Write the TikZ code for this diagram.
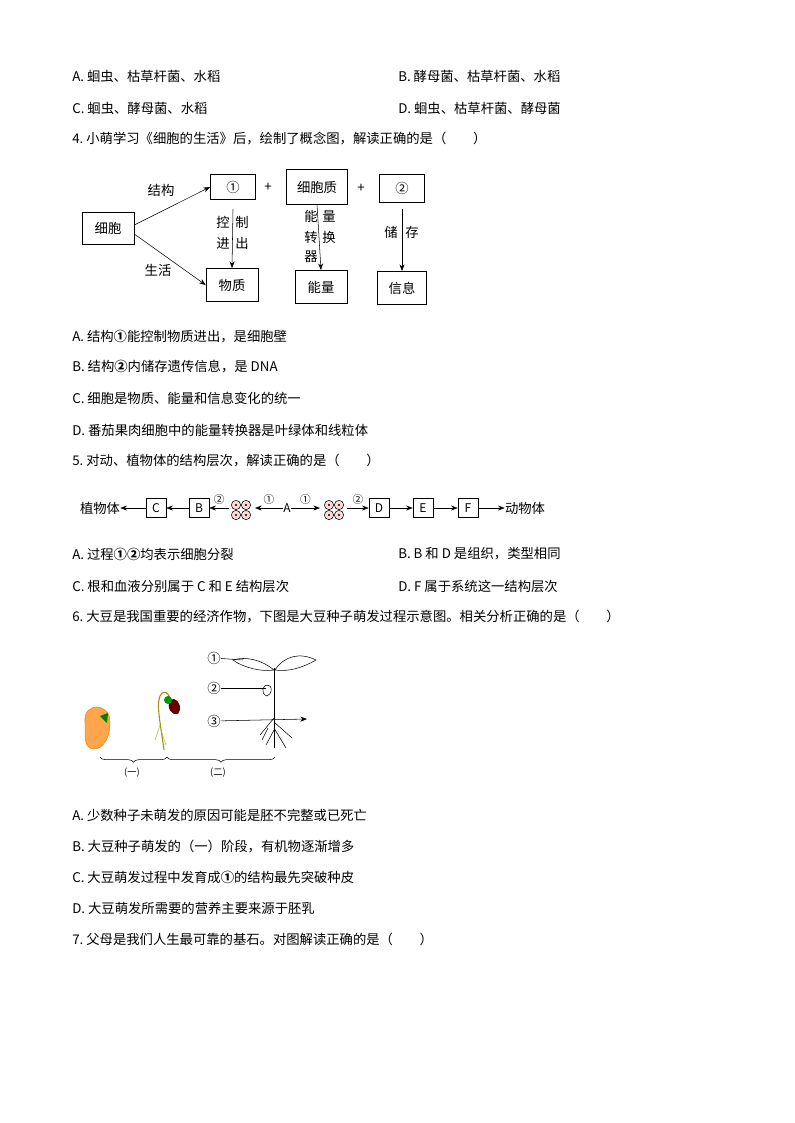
\documentclass[tikz,border=0pt]{standalone}
\usepackage{fontspec}
\setmainfont{Noto Sans CJK SC}
\usetikzlibrary{positioning,decorations.pathreplacing,arrows.meta}
\tikzset{
    line/.style={anchor=west,inner sep=0pt,font=\fontsize{10pt}{12pt}\selectfont},
    cbox/.style={rectangle,draw=black,inner sep=0pt,font=\fontsize{10pt}{12pt}\selectfont},
    lbl/.style={inner sep=0pt,font=\fontsize{10pt}{12pt}\selectfont},
    sbox/.style={rectangle,draw=black,minimum width=15pt,minimum height=14pt,inner sep=0pt,font=\fontsize{9pt}{10pt}\selectfont},
    cell/.style={circle,draw=black,fill=pink!60,minimum size=7pt,inner sep=0pt},
    arr/.style={-{Stealth[length=5pt]},thin},
}
\newcommand{\cellgroup}[2]{%
  \foreach \dx/\dy in {-5/-5,5/-5,-5/5,5/5}{
    \node[cell] at (#1+\dx,#2+\dy) {};
    \fill (#1+\dx,#2+\dy) circle (0.8pt);}
  \coordinate (#1g) at (#1,#2);}
\begin{document}
\begin{tikzpicture}[x=0.75pt,y=-0.75pt]
  \useasboundingbox (0,0) rectangle (794,1123);
  % question 3 options
  \node[line] (q3a) at (72,76) {A.\ 蛔虫、枯草杆菌、水稻};
  \node[line] (q3b) at (398,76) {B.\ 酵母菌、枯草杆菌、水稻};
  \node[line] (q3c) at (72,108) {C.\ 蛔虫、酵母菌、水稻};
  \node[line] (q3d) at (398,108) {D.\ 蛔虫、枯草杆菌、酵母菌};
  % question 4
  \node[line] (q4) at (72,139) {4.\ 小萌学习《细胞的生活》后，绘制了概念图，解读正确的是（\quad\quad）};
  \node[cbox,minimum width=39pt,minimum height=24pt] (cell) at (108,228) {细胞};
  \node[cbox,minimum width=34pt,minimum height=19pt] (one) at (233,187) {①};
  \node[cbox,minimum width=46pt,minimum height=26pt] (cyto) at (317,187) {细胞质};
  \node[cbox,minimum width=34pt,minimum height=21pt] (two) at (402,188) {②};
  \node[cbox,minimum width=39pt,minimum height=25pt] (mat) at (232,285) {物质};
  \node[cbox,minimum width=39pt,minimum height=25pt] (ener) at (321,287) {能量};
  \node[cbox,minimum width=37pt,minimum height=25pt] (info) at (402,288) {信息};
  \node[lbl] (plus1) at (268,187) {+};
  \node[lbl] (plus2) at (361,188) {+};
  \draw[arr] (cell.east) ++(0,-3) coordinate (c1) -- (one.west);
  \draw[arr] (cell.east) ++(0,6) coordinate (c2) -- (mat.west);
  \node[lbl] (jg) at (161,190) {结构};
  \node[lbl] (sh) at (158,270) {生活};
  \draw[arr] ([yshift=-7pt]one.south) -- (mat.north);
  \draw[arr] (cyto.south) -- (ener.north);
  \draw[arr] ([yshift=-5pt]two.south) -- (info.north);
  \node[lbl] at (223,222) {控};
  \node[lbl] at (223,243) {进};
  \node[lbl] at (242,222) {制};
  \node[lbl] at (242,243) {出};
  \node[lbl] at (311,216) {能};
  \node[lbl] at (311,237) {转};
  \node[lbl] at (311,257) {器};
  \node[lbl] at (329,216) {量};
  \node[lbl] at (329,237) {换};
  \node[lbl] at (391,232) {储};
  \node[lbl] at (412,232) {存};
  \node[line] (q4a) at (72,337) {A.\ 结构\textbf{①}能控制物质进出，是细胞壁};
  \node[line] (q4b) at (72,367) {B.\ 结构\textbf{②}内储存遗传信息，是 DNA};
  \node[line] (q4c) at (72,398) {C.\ 细胞是物质、能量和信息变化的统一};
  \node[line] (q4d) at (72,430) {D.\ 番茄果肉细胞中的能量转换器是叶绿体和线粒体};
  % question 5
  \node[line] (q5) at (72,461) {5.\ 对动、植物体的结构层次，解读正确的是（\quad\quad）};
  \node[lbl] (plant) at (100,508) {植物体};
  \node[sbox] (C) at (156,508) {C};
  \node[sbox] (B) at (199,508) {B};
  \cellgroup{241}{510}
  \node[lbl,font=\fontsize{9pt}{10pt}\selectfont] (A) at (287,508) {A};
  \cellgroup{334}{510}
  \node[sbox] (D) at (379,508) {D};
  \node[sbox] (E) at (423,508) {E};
  \node[sbox] (F) at (468,508) {F};
  \node[lbl] (animal) at (525,508) {动物体};
  \draw[arr] (C) -- (plant);
  \draw[arr] (B) -- (C);
  \draw[arr] (229,508) -- (B) node[midway,above=-1pt,font=\footnotesize] {②};
  \draw[arr] (A) -- (255,508) node[midway,above=-1pt,font=\footnotesize] {①};
  \draw[arr] (A) -- (320,508) node[midway,above=-1pt,font=\footnotesize] {①};
  \draw[arr] (347,508) -- (D) node[midway,above=-1pt,font=\footnotesize] {②};
  \draw[arr] (D) -- (E);
  \draw[arr] (E) -- (F);
  \draw[arr] (F) -- (animal);
  \node[line] (q5a) at (72,554) {A.\ 过程\textbf{①②}均表示细胞分裂};
  \node[line] (q5b) at (398,554) {B. B 和 D 是组织，类型相同};
  \node[line] (q5c) at (72,586) {C.\ 根和血液分别属于 C 和 E 结构层次};
  \node[line] (q5d) at (398,586) {D. F 属于系统这一结构层次};
  % question 6
  \node[line] (q6) at (72,617) {6.\ 大豆是我国重要的经济作物，下图是大豆种子萌发过程示意图。相关分析正确的是（\quad\quad）};
  % seed
  \draw[draw=orange!70!brown,fill=orange!70] (85,722) .. controls (83,702) and (110,702) .. (110,722) .. controls (110,742) and (100,752) .. (90,748) .. controls (83,744) and (86,732) .. (85,722) -- cycle;
  \fill[green!50!black] (100,716) -- (108,713) -- (107,723) -- cycle;
  % seedling
  \draw[olive!70!brown,thick] (164,750) .. controls (160,720) and (155,700) .. (162,693) .. controls (168,690) and (170,698) .. (172,702);
  \draw[olive!60,thin] (160,725) -- (155,740) (161,730) -- (166,745);
  \fill[red!40!black] (170,700) .. controls (166,708) and (172,716) .. (178,714) .. controls (182,710) and (180,700) .. (174,699) -- cycle;
  \fill[green!60!black] (168,700) circle (3pt);
  % plant
  \draw (274,748) -- (274,668);
  \draw (274,670) .. controls (262,660) and (246,656) .. (233,660) .. controls (244,668) and (262,672) .. (274,670);
  \draw (275,670) .. controls (284,656) and (300,652) .. (316,660) .. controls (302,668) and (288,672) .. (275,670);
  \draw (270,686) .. controls (262,682) and (260,694) .. (267,696) .. controls (272,694) and (272,688) .. (270,686);
  \draw (274,718) -- (260,735) (274,722) -- (292,738) (274,730) -- (266,745) (274,728) -- (286,748) (268,728) -- (262,740);
  \node[lbl] (n1) at (214,658) {①};
  \node[lbl] (n2) at (214,688) {②};
  \node[lbl] (n3) at (214,721) {③};
  \coordinate (p1) at (243,660);
  \coordinate (p2) at (266,688);
  \coordinate (p3) at (307,719);
  \draw (n1) -- (p1);
  \draw (n2) -- (p2);
  \draw[arr] (n3) -- (p3);
  \draw[decorate,decoration={brace,mirror,amplitude=4pt}] (100,757) -- (167,757);
  \draw[decorate,decoration={brace,mirror,amplitude=4pt}] (167,757) -- (275,757);
  \node[lbl,font=\scriptsize] (st1) at (132,773) {(一)};
  \node[lbl,font=\scriptsize] (st2) at (218,773) {(二)};
  \node[line] (q6a) at (72,815) {A.\ 少数种子未萌发的原因可能是胚不完整或已死亡};
  \node[line] (q6b) at (72,846) {B.\ 大豆种子萌发的（一）阶段，有机物逐渐增多};
  \node[line] (q6c) at (72,877) {C.\ 大豆萌发过程中发育成\textbf{①}的结构最先突破种皮};
  \node[line] (q6d) at (72,908) {D.\ 大豆萌发所需要的营养主要来源于胚乳};
  % question 7
  \node[line] (q7) at (72,939) {7.\ 父母是我们人生最可靠的基石。对图解读正确的是（\quad\quad）};
\end{tikzpicture}
\end{document}
